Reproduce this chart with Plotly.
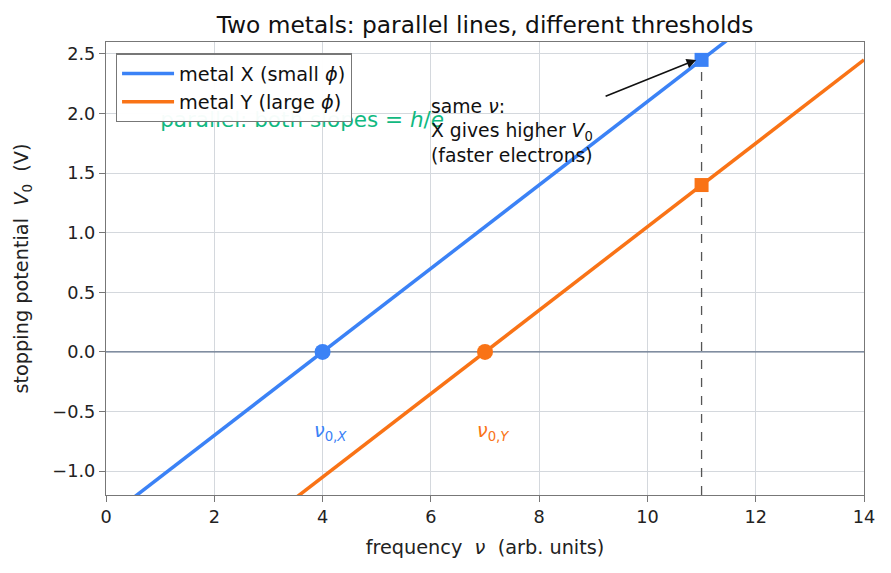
import plotly.graph_objects as go

freq = [0, 14]
nu0_x = 4.0
nu0_y = 7.0
slope = 0.35
nu_probe = 11.0
blue = "#3b82f6"
orange = "#f97316"
green = "#10b981"

vx = [slope * (f - nu0_x) for f in freq]
vy = [slope * (f - nu0_y) for f in freq]
vpx = slope * (nu_probe - nu0_x)
vpy = slope * (nu_probe - nu0_y)

fig = go.Figure()
fig.add_trace(go.Scatter(x=[0, 14], y=[0, 0], mode="lines",
                         line=dict(color="#64748b", width=1.3), showlegend=False, hoverinfo="skip"))
fig.add_trace(go.Scatter(x=[1.0], y=[1.93], mode="text",
                         text=["parallel: both slopes = <i>h</i>/<i>e</i>"],
                         textposition="middle right",
                         textfont=dict(color=green, size=21.5, family="DejaVu Sans"),
                         showlegend=False, hoverinfo="skip"))
fig.add_trace(go.Scatter(x=[nu_probe, nu_probe], y=[-1.2, vpx], mode="lines",
                         line=dict(color="#555555", width=1.3, dash="dash"),
                         showlegend=False))
fig.add_trace(go.Scatter(x=freq, y=vx, mode="lines", line=dict(color=blue, width=3.5),
                         name="metal X (small <i>ϕ</i>)"))
fig.add_trace(go.Scatter(x=freq, y=vy, mode="lines", line=dict(color=orange, width=3.5),
                         name="metal Y (large <i>ϕ</i>)"))
fig.add_trace(go.Scatter(x=[nu0_x], y=[0], mode="markers",
                         marker=dict(color=blue, size=16, symbol="circle"), showlegend=False))
fig.add_trace(go.Scatter(x=[nu0_y], y=[0], mode="markers",
                         marker=dict(color=orange, size=16, symbol="circle"), showlegend=False))
fig.add_trace(go.Scatter(x=[nu_probe], y=[vpx], mode="markers",
                         marker=dict(color=blue, size=14, symbol="square"), showlegend=False))
fig.add_trace(go.Scatter(x=[nu_probe], y=[vpy], mode="markers",
                         marker=dict(color=orange, size=14, symbol="square"), showlegend=False))

fig.add_annotation(x=nu0_x + 0.14, y=-0.67, text="<i>ν</i><sub>0,<i>X</i></sub>", showarrow=False,
                   font=dict(color=blue, size=19, family="DejaVu Sans"))
fig.add_annotation(x=nu0_y + 0.14, y=-0.67, text="<i>ν</i><sub>0,<i>Y</i></sub>", showarrow=False,
                   font=dict(color=orange, size=19, family="DejaVu Sans"))
fig.add_annotation(x=5.96, y=1.85, xanchor="left", yanchor="middle", align="left",
                   text="same <i>ν</i>:<br>X gives higher <i>V</i><sub>0</sub><br>(faster electrons)",
                   showarrow=False, font=dict(color="#111111", size=18.8, family="DejaVu Sans"))
fig.add_annotation(x=nu_probe - 0.1, y=vpx, ax=9.2, ay=2.14, axref="x", ayref="y",
                   text="", showarrow=True, arrowhead=2, arrowsize=1.2, arrowwidth=1.6,
                   arrowcolor="#111111")

fig.update_layout(
    width=891, height=573,
    paper_bgcolor="white", plot_bgcolor="white",
    margin=dict(l=106, r=27, t=42, b=78),
    font=dict(family="DejaVu Sans", size=17, color="#222222"),
    title=dict(text="Two metals: parallel lines, different thresholds", x=0.5, xref="paper",
               xanchor="center", y=0.956, yanchor="middle", font=dict(size=23.3, color="#111111")),
    legend=dict(x=0.013, y=0.975, xanchor="left", yanchor="top",
                bgcolor="rgba(255,255,255,0.96)", bordercolor="#777777", borderwidth=1.2,
                font=dict(size=19.3, color="#111111"), itemwidth=52, tracegroupgap=4),
    showlegend=True,
)
fig.update_xaxes(range=[0, 14], dtick=2, showgrid=True, gridcolor="#d4d8dd", gridwidth=1,
                 zeroline=False, showline=True, linecolor="#777777", linewidth=1.3, mirror=True,
                 ticks="outside", ticklen=6, tickcolor="#777777",
                 tickfont=dict(size=17.7, color="#222222"),
                 title=dict(text="frequency  <i>ν</i>  (arb. units)", font=dict(size=19.3), standoff=14))
fig.update_yaxes(range=[-1.2, 2.6], dtick=0.5, tickformat=".1f", showgrid=True, gridcolor="#d4d8dd",
                 gridwidth=1, zeroline=False, showline=True, linecolor="#777777", linewidth=1.3,
                 mirror=True, ticks="outside", ticklen=6, tickcolor="#777777",
                 tickfont=dict(size=17.7, color="#222222"),
                 title=dict(text="stopping potential  <i>V</i><sub>0</sub>  (V)", font=dict(size=19.3),
                            standoff=18))

fig.write_html("out.html")
